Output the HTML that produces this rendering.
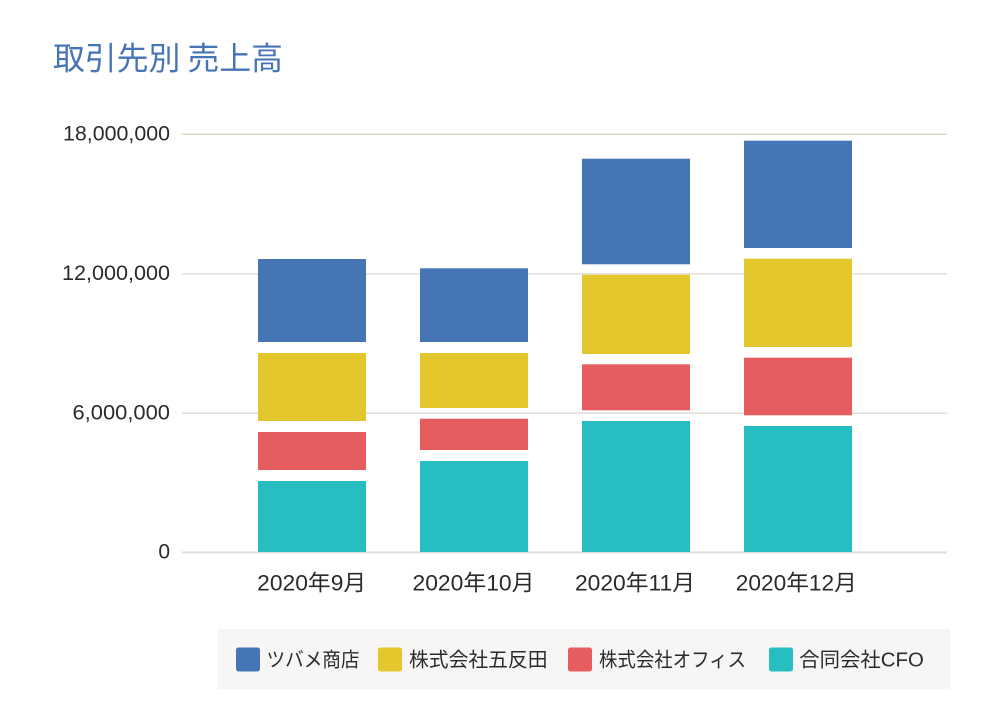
<!DOCTYPE html>
<html>
<head>
<meta charset="utf-8">
<style>
  html, body { margin: 0; padding: 0; background: #ffffff; }
  svg { display: block; }
  text { font-family: "Liberation Sans", "Noto Sans CJK JP", sans-serif; }
</style>
</head>
<body>
<svg width="1000" height="720" viewBox="0 0 1000 720" xmlns="http://www.w3.org/2000/svg">
  <rect x="0" y="0" width="1000" height="720" fill="#ffffff"/>

  <!-- Title -->
  <text x="53" y="56.5" font-size="32" fill="#4674b6" dominant-baseline="central" textLength="230" lengthAdjust="spacingAndGlyphs" style="font-family:'Noto Sans CJK JP','Liberation Sans',sans-serif;">取引先別 売上高</text>

  <!-- Gridlines -->
  <line x1="182" y1="134.3" x2="947" y2="134.3" stroke="#dcd5c3" stroke-width="1.5"/>
  <line x1="182" y1="273.7" x2="947" y2="273.7" stroke="#e4e1db" stroke-width="1.5"/>
  <line x1="182" y1="413.2" x2="947" y2="413.2" stroke="#e0ddd6" stroke-width="1.5"/>
  <line x1="182" y1="552.4" x2="947" y2="552.4" stroke="#e0ddd8" stroke-width="2"/>

  <!-- Y-axis labels -->
  <g font-size="21" fill="#2b2b2b" text-anchor="end" dominant-baseline="central">
    <text x="170" y="134" textLength="107" lengthAdjust="spacingAndGlyphs">18,000,000</text>
    <text x="170" y="273.5" textLength="108" lengthAdjust="spacingAndGlyphs">12,000,000</text>
    <text x="170" y="413" textLength="97.5" lengthAdjust="spacingAndGlyphs">6,000,000</text>
    <text x="170" y="552">0</text>
  </g>

  <!-- Bars -->
  <g>
    <!-- Bar 1 -->
    <rect x="258" y="259" width="108" height="83" fill="#4675b5"/>
    <rect x="258" y="353" width="108" height="68" fill="#e4c62d"/>
    <rect x="258" y="432" width="108" height="38" fill="#e65d5f"/>
    <rect x="258" y="481" width="108" height="71" fill="#26bec0"/>
    <!-- Bar 2 -->
    <rect x="420" y="268.3" width="108" height="73.7" fill="#4675b5"/>
    <rect x="420" y="353" width="108" height="55" fill="#e4c62d"/>
    <rect x="420" y="418.7" width="108" height="31.3" fill="#e65d5f"/>
    <rect x="420" y="461" width="108" height="91" fill="#26bec0"/>
    <!-- Bar 3 -->
    <rect x="582" y="158.7" width="108" height="105.6" fill="#4675b5"/>
    <rect x="582" y="274.7" width="108" height="79.3" fill="#e4c62d"/>
    <rect x="582" y="364.3" width="108" height="46" fill="#e65d5f"/>
    <rect x="582" y="421" width="108" height="131" fill="#26bec0"/>
    <!-- Bar 4 -->
    <rect x="744" y="140.7" width="108" height="107.3" fill="#4675b5"/>
    <rect x="744" y="258.7" width="108" height="88.3" fill="#e4c62d"/>
    <rect x="744" y="357.7" width="108" height="57.6" fill="#e65d5f"/>
    <rect x="744" y="426" width="108" height="126" fill="#26bec0"/>
  </g>

  <!-- X-axis labels -->
  <g font-size="22" fill="#2b2b2b" text-anchor="middle" dominant-baseline="central">
    <text x="311.7" y="583" textLength="109" lengthAdjust="spacingAndGlyphs">2020年9月</text>
    <text x="473.5" y="583" textLength="122" lengthAdjust="spacingAndGlyphs">2020年10月</text>
    <text x="635" y="583" textLength="120" lengthAdjust="spacingAndGlyphs">2020年11月</text>
    <text x="796.3" y="583" textLength="121" lengthAdjust="spacingAndGlyphs">2020年12月</text>
  </g>

  <!-- Legend -->
  <rect x="217.5" y="629" width="732.5" height="60.5" fill="#f7f6f4"/>
  <g>
    <rect x="236" y="647.5" width="24" height="24" rx="2.5" fill="#4675b5"/>
    <rect x="378" y="647.5" width="24" height="24" rx="2.5" fill="#e4c62d"/>
    <rect x="568" y="647.5" width="24" height="24" rx="2.5" fill="#e65d5f"/>
    <rect x="769" y="647.5" width="24" height="24" rx="2.5" fill="#26bec0"/>
  </g>
  <g font-size="20" fill="#2b2b2b" dominant-baseline="central">
    <text x="266.5" y="660.5" textLength="93" lengthAdjust="spacingAndGlyphs">ツバメ商店</text>
    <text x="409" y="660.5" textLength="138.5" lengthAdjust="spacingAndGlyphs">株式会社五反田</text>
    <text x="599" y="660.5" textLength="147" lengthAdjust="spacingAndGlyphs">株式会社オフィス</text>
    <text x="799.3" y="660.5" textLength="124.5" lengthAdjust="spacingAndGlyphs">合同会社CFO</text>
  </g>
</svg>
</body>
</html>
